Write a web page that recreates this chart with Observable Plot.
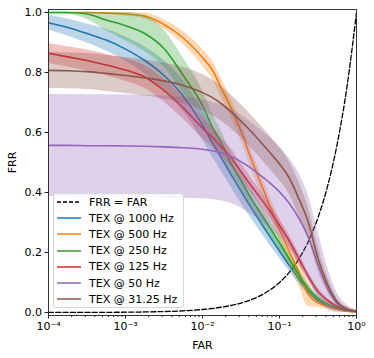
<!DOCTYPE html>
<html><head><meta charset="utf-8">
<script src="https://cdn.jsdelivr.net/npm/d3@7"></script>
<script src="https://cdn.jsdelivr.net/npm/@observablehq/plot@0.6"></script>
<style>
body{margin:0;background:#fff;font-family:"DejaVu Sans",sans-serif;}
#wrap{position:relative;width:374px;height:358px;}
#legend{position:absolute;left:53px;top:193px;border:1px solid #d6d6d6;border-radius:3px;background:rgba(255,255,255,0.8);padding:0 6px 0 3px;font-size:11px;color:#000;}
#legend .row{display:flex;align-items:center;height:16.2px;white-space:nowrap;}
#legend svg{margin-right:8px;}
</style></head><body><div id="wrap"></div>
<script>
const far = [0.0001, 0.000178, 0.000316, 0.000562, 0.001, 0.00178, 0.00316, 0.00562, 0.01, 0.0133, 0.0178, 0.0237, 0.0316, 0.0422, 0.0562, 0.075, 0.1, 0.133, 0.178, 0.237, 0.316, 0.422, 0.562, 0.75, 1];
const seriesNames = ["TEX @ 1000 Hz", "TEX @ 500 Hz", "TEX @ 250 Hz", "TEX @ 125 Hz", "TEX @ 50 Hz", "TEX @ 31.25 Hz"];
const colors = ["#1f77b4", "#ff7f0e", "#2ca02c", "#d62728", "#9467bd", "#8c564b"];
const mean1000 = [0.966, 0.95, 0.93, 0.908, 0.878, 0.84, 0.79, 0.722, 0.625, 0.568, 0.513, 0.458, 0.405, 0.352, 0.302, 0.253, 0.205, 0.158, 0.112, 0.07, 0.04, 0.022, 0.011, 0.005, 0.002];
const mean500 = [1.0, 1.0, 1.0, 0.998, 0.995, 0.988, 0.96, 0.915, 0.85, 0.81, 0.745, 0.68, 0.605, 0.517, 0.435, 0.355, 0.275, 0.205, 0.135, 0.06, 0.032, 0.02, 0.01, 0.004, 0.001];
const mean250 = [1.0, 1.0, 0.995, 0.975, 0.956, 0.93, 0.88, 0.79, 0.69, 0.62, 0.562, 0.495, 0.44, 0.383, 0.333, 0.283, 0.232, 0.18, 0.125, 0.08, 0.048, 0.028, 0.015, 0.007, 0.003];
const mean125 = [0.864, 0.852, 0.84, 0.825, 0.808, 0.785, 0.74, 0.682, 0.615, 0.585, 0.55, 0.515, 0.47, 0.425, 0.382, 0.338, 0.29, 0.24, 0.18, 0.12, 0.07, 0.04, 0.02, 0.008, 0.003];
const mean50 = [0.557, 0.557, 0.556, 0.556, 0.555, 0.554, 0.552, 0.549, 0.544, 0.539, 0.532, 0.52, 0.503, 0.482, 0.458, 0.432, 0.402, 0.365, 0.315, 0.25, 0.16, 0.08, 0.03, 0.011, 0.004];
const mean31 = [0.807, 0.806, 0.803, 0.797, 0.79, 0.782, 0.772, 0.757, 0.733, 0.717, 0.695, 0.668, 0.638, 0.605, 0.57, 0.533, 0.495, 0.45, 0.38, 0.3, 0.18, 0.093, 0.035, 0.012, 0.004];
const sd1000 = [0.025, 0.028, 0.032, 0.036, 0.04, 0.045, 0.05, 0.052, 0.05, 0.048, 0.045, 0.042, 0.04, 0.036, 0.032, 0.028, 0.024, 0.02, 0.016, 0.012, 0.008, 0.006, 0.004, 0.003, 0.002];
const sd500 = [0.002, 0.003, 0.004, 0.005, 0.007, 0.01, 0.015, 0.022, 0.028, 0.03, 0.032, 0.032, 0.032, 0.032, 0.032, 0.032, 0.035, 0.04, 0.045, 0.04, 0.015, 0.01, 0.006, 0.004, 0.002];
const sd250 = [0.002, 0.006, 0.018, 0.035, 0.05, 0.06, 0.062, 0.058, 0.05, 0.045, 0.04, 0.035, 0.032, 0.03, 0.028, 0.026, 0.024, 0.021, 0.018, 0.015, 0.01, 0.007, 0.005, 0.003, 0.002];
const sd125 = [0.033, 0.034, 0.035, 0.036, 0.037, 0.038, 0.038, 0.037, 0.035, 0.033, 0.031, 0.03, 0.028, 0.026, 0.025, 0.024, 0.022, 0.02, 0.018, 0.015, 0.012, 0.008, 0.005, 0.003, 0.002];
const sd50 = [0.17, 0.17, 0.17, 0.17, 0.17, 0.17, 0.17, 0.168, 0.165, 0.162, 0.16, 0.157, 0.155, 0.153, 0.152, 0.151, 0.15, 0.15, 0.15, 0.14, 0.11, 0.07, 0.035, 0.015, 0.005];
const sd31 = [0.06, 0.06, 0.06, 0.06, 0.06, 0.06, 0.06, 0.06, 0.06, 0.06, 0.058, 0.056, 0.055, 0.055, 0.055, 0.055, 0.055, 0.055, 0.055, 0.05, 0.04, 0.025, 0.012, 0.006, 0.003];
const majorTicks = [0.0001, 0.001, 0.01, 0.1, 1];
const majorLabels = ["10⁻⁴", "10⁻³", "10⁻²", "10⁻¹", "10⁰"];
const minorTicks = [0.0002,0.0003,0.0004,0.0005,0.0006,0.0007,0.0008,0.0009,0.002,0.003,0.004,0.005,0.006,0.007,0.008,0.009,0.02,0.03,0.04,0.05,0.06,0.07,0.08,0.09,0.2,0.3,0.4,0.5,0.6,0.7,0.8,0.9];
const yTicks = [0, 0.2, 0.4, 0.6, 0.8, 1.0];

const means = [mean1000, mean500, mean250, mean125, mean50, mean31];
const sds = [sd1000, sd500, sd250, sd125, sd50, sd31];
const diag = far.map(f => ({far: f, frr: f}));

const marks = [
  Plot.line(diag, {x: "far", y: "frr", stroke: "#000", strokeWidth: 1.3, strokeDasharray: "5,2.3", curve: "monotone-x", clip: true})
];
seriesNames.forEach((name, i) => {
  const rows = far.map((f, j) => ({far: f, mean: means[i][j], lo: Math.max(0, means[i][j] - sds[i][j]), hi: Math.min(1, means[i][j] + sds[i][j])}));
  marks.push(Plot.line(rows, {x: "far", y: "mean", stroke: colors[i], strokeWidth: 1.6, curve: "monotone-x", clip: true}));
  marks.push(Plot.areaY(rows, {x: "far", y1: "lo", y2: "hi", fill: colors[i], fillOpacity: 0.3, curve: "monotone-x", clip: true}));
});
marks.push(Plot.axisX({ticks: minorTicks, tickSize: 2, tickFormat: () => "", label: null, stroke: "#222"}));
marks.push(Plot.axisX({ticks: majorTicks, tickSize: 3.5, tickPadding: 3, tickFormat: (d) => majorLabels[majorTicks.indexOf(d)], label: "FAR", labelAnchor: "center", labelArrow: "none", labelOffset: 33, fontSize: 11, stroke: "#222"}));
marks.push(Plot.axisY({ticks: yTicks, tickSize: 3.5, tickPadding: 3, tickFormat: d3.format(".1f"), label: "FRR", labelAnchor: "center", labelArrow: "none", labelOffset: 40, fontSize: 11, stroke: "#222"}));
marks.push(Plot.frame({stroke: "#333", strokeWidth: 1}));

const chart = Plot.plot({
  width: 374, height: 358,
  marginLeft: 48, marginRight: 18, marginTop: 9, marginBottom: 43,
  x: {type: "log", domain: [0.0001, 1]},
  y: {domain: [-0.01, 1.01]},
  style: {fontFamily: "DejaVu Sans, sans-serif", fontSize: "11px", color: "#000", background: "#fff"},
  marks
});
const wrap = document.getElementById("wrap");
wrap.appendChild(chart);

const legend = document.createElement("div");
legend.id = "legend";
const items = [{name: "FRR = FAR", color: "#000", dash: "4,2"}].concat(seriesNames.map((n, i) => ({name: n, color: colors[i], dash: null})));
items.forEach(it => {
  const row = document.createElement("div");
  row.className = "row";
  row.innerHTML = `<svg width="24" height="6"><line x1="0" y1="3" x2="24" y2="3" stroke="${it.color}" stroke-width="1.5" ${it.dash ? `stroke-dasharray="${it.dash}"` : ""}/></svg><span>${it.name}</span>`;
  legend.appendChild(row);
});
wrap.appendChild(legend);
</script></body></html>
